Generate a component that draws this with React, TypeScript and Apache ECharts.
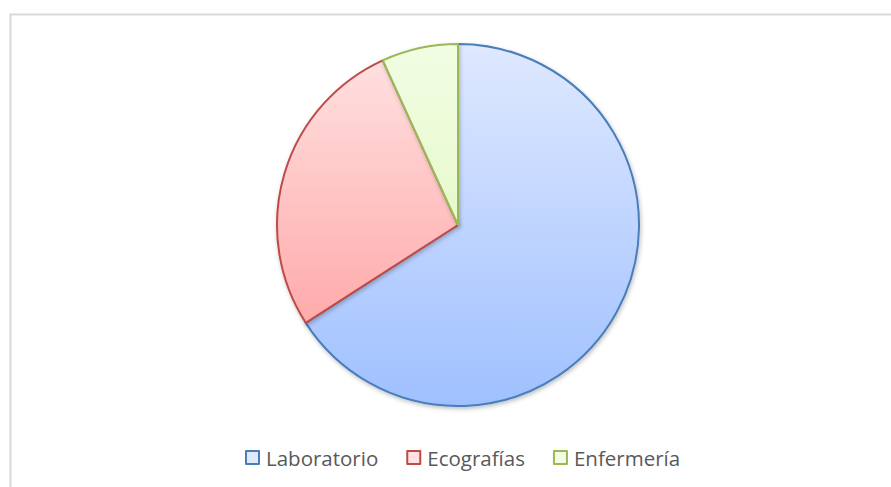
import React, { useEffect, useRef } from "react";
import * as echarts from "echarts";

const categories = ["Laboratorio", "Ecografías", "Enfermería"];
const values = [29, 12, 3];
const borderColors = ["#4a7ebb", "#be4b48", "#98b954"];
const topColors = ["#dfe9ff", "#ffe3e3", "#f2fde3"];
const bottomColors = ["#9fc0ff", "#ff9a9a", "#dcf5b8"];

export default function App() {
  const ref = useRef<HTMLDivElement>(null);
  useEffect(() => {
    if (!ref.current) return;
    const chart = echarts.init(ref.current, null, { renderer: "svg" });
    const cy = 225;
    const r = 181;
    chart.setOption({
      animation: false,
      backgroundColor: "#ffffff",
      graphic: [
        {
          type: "rect",
          shape: { x: 10.5, y: 14.5, width: 900, height: 500 },
          style: { fill: "none", stroke: "#d9d9d9", lineWidth: 2 },
          silent: true,
        },
      ],
      legend: {
        show: true,
        bottom: 14,
        left: 240,
        icon: "rect",
        itemWidth: 13,
        itemHeight: 13,
        itemGap: 28,
        textStyle: { fontFamily: "Open Sans", fontSize: 20.5, color: "#595959", padding: [0, 0, 0, 2] },
        data: categories,
      },
      series: [
        {
          type: "pie",
          center: [458, cy],
          radius: [0, r],
          startAngle: 90,
          clockwise: true,
          label: { show: false },
          labelLine: { show: false },
          data: categories.map((c, i) => ({
            name: c,
            value: values[i],
            itemStyle: {
              color: new echarts.graphic.LinearGradient(0, cy - r, 0, cy + r, [
                { offset: 0, color: topColors[i] },
                { offset: 1, color: bottomColors[i] },
              ], true),
              borderColor: borderColors[i],
              borderWidth: 2,
              shadowColor: "rgba(0,0,0,0.25)",
              shadowBlur: 4,
              shadowOffsetX: 1,
              shadowOffsetY: 2,
            },
          })),
        },
      ],
    });
    return () => chart.dispose();
  }, []);
  return (
    <div
      ref={ref}
      style={{ position: "fixed", left: 0, top: 0, width: 891, height: 487 }}
    />
  );
}
